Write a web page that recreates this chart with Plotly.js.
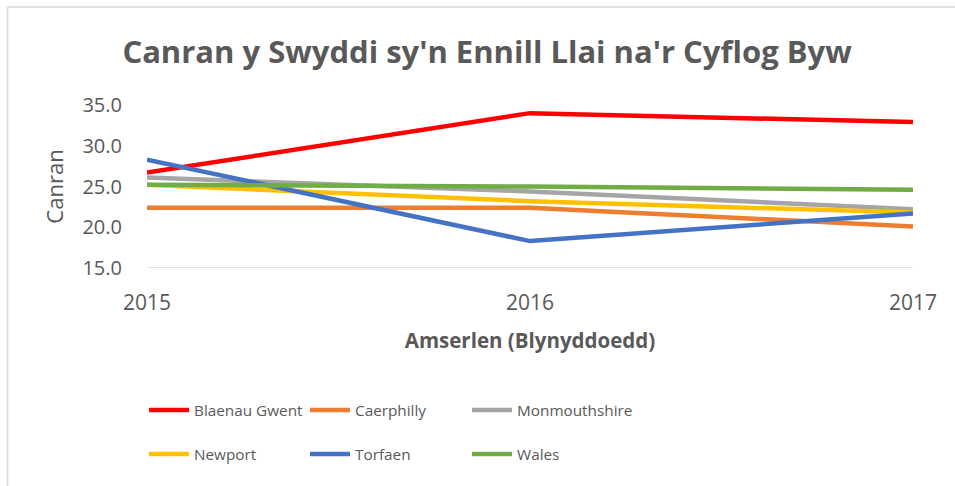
<!DOCTYPE html>
<html>
<head>
<meta charset="utf-8">
<script src="https://cdn.plot.ly/plotly-3.0.1.min.js"></script>
<style>html,body{margin:0;padding:0;background:#fff;}#chart{width:955px;height:486px;}</style>
</head>
<body>
<div id="chart"></div>
<script>
const years = ['2015', '2016', '2017'];
const blaenauGwent = [26.7, 34.0, 32.9];
const caerphilly = [22.4, 22.4, 20.1];
const monmouthshire = [26.1, 24.4, 22.2];
const newport = [25.2, 23.2, 21.8];
const torfaen = [28.3, 18.3, 21.7];
const wales = [25.2, 25.0, 24.6];
const seriesNames = ['Blaenau Gwent', 'Caerphilly', 'Monmouthshire', 'Newport', 'Torfaen', 'Wales'];
const seriesValues = [blaenauGwent, caerphilly, monmouthshire, newport, torfaen, wales];
const colors = ['#FF0000', '#ED7D31', '#A5A5A5', '#FFC000', '#4472C4', '#70AD47'];
const yTicks = [15, 20, 25, 30, 35];
const yTickLabels = ['15.0', '20.0', '25.0', '30.0', '35.0'];

const FONT = 'Open Sans, sans-serif';
const TXT = '#595959';

const legendIds = ['legend', 'legend2', 'legend3', 'legend4', 'legend5', 'legend6'];
const traces = seriesNames.map((n, i) => ({
  x: years, y: seriesValues[i], name: n, type: 'scatter', mode: 'lines',
  line: {color: colors[i], width: 4.5},
  legend: legendIds[i]
}));

const legendCommon = {
  orientation: 'h', xanchor: 'left', yanchor: 'middle',
  font: {family: FONT, size: 15.3, color: TXT},
  itemwidth: 40,
  bgcolor: 'rgba(0,0,0,0)', traceorder: 'normal'
};
const legendX = [-0.0039, 0.2063, 0.4178];
const legendY = [-0.871, -1.141];

const layout = {
  width: 955, height: 486,
  margin: {l: 147, r: 42, t: 105, b: 218},
  paper_bgcolor: '#fff', plot_bgcolor: '#fff',
  showlegend: true,
  title: {text: "<b>Canran y Swyddi sy'n Ennill Llai na'r Cyflog Byw</b>",
    font: {family: FONT, size: 31, color: TXT}, x: 0.51, xanchor: 'center', y: 0.893, yanchor: 'middle'},
  xaxis: {
    type: 'category', range: [0, 2], showgrid: false, zeroline: false,
    showline: false, ticks: 'outside', ticklen: 16, tickcolor: 'rgba(0,0,0,0)',
    tickfont: {family: FONT, size: 21, color: TXT},
    title: {text: '<b>Amserlen (Blynyddoedd)</b>', font: {family: FONT, size: 20.5, color: TXT}, standoff: 18}
  },
  yaxis: {
    range: [15, 35], tickvals: yTicks, ticktext: yTickLabels,
    showgrid: false, zeroline: false, showline: false,
    ticks: 'outside', ticklen: 20, tickcolor: 'rgba(0,0,0,0)',
    tickfont: {family: FONT, size: 20, color: TXT},
    title: {text: 'Canran', font: {family: FONT, size: 22, color: TXT}, standoff: 12}
  },
  shapes: [
    {type: 'line', xref: 'paper', yref: 'y', x0: 0, x1: 1, y0: 15, y1: 15, line: {color: '#D9D9D9', width: 1.5}, layer: 'below'},
    {type: 'line', xref: 'paper', yref: 'paper', x0: -0.182, x1: -0.182, y0: 1.601, y1: -1.5, line: {color: '#D9D9D9', width: 1.5}},
    {type: 'line', xref: 'paper', yref: 'paper', x0: -0.182, x1: 1.1, y0: 1.601, y1: 1.601, line: {color: '#D9D9D9', width: 1.5}}
  ]
};
legendIds.forEach((id, i) => {
  layout[id] = Object.assign({}, legendCommon, {x: legendX[i % 3], y: legendY[Math.floor(i / 3)]});
});

Plotly.newPlot('chart', traces, layout, {displayModeBar: false, staticPlot: true});
</script>
</body>
</html>
